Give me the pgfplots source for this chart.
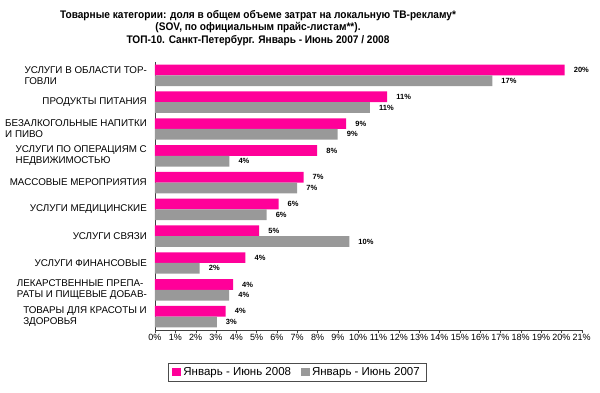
\documentclass[border=0pt]{standalone}
\usepackage{pgfplots}
\pgfplotsset{compat=1.18}
\usepackage{pgfplotstable}
\usepackage{fontspec}
\setmainfont{Liberation Sans}
\newfontfamily\titlefont[FakeStretch=0.92]{Liberation Sans}
\definecolor{pinkbar}{RGB}{255,0,153}
\definecolor{graybar}{RGB}{153,153,153}

\pgfplotstableread{
y x lab
0 20.16 20
1 11.43 11
2 9.41 9
3 7.98 8
4 7.31 7
5 6.08 6
6 5.13 5
7 4.45 4
8 3.84 4
9 3.48 4
}\pinkdata

\pgfplotstableread{
y x lab
0 16.60 17
1 10.58 11
2 8.99 9
3 3.66 4
4 7.00 7
5 5.49 6
6 9.56 10
7 2.20 2
8 3.65 4
9 3.04 3
}\graydata

\begin{document}
\begin{tikzpicture}
\useasboundingbox (0pt,0pt) rectangle (600pt,393pt);
\node[align=center, inner sep=0pt, font=\titlefont\bfseries\fontsize{11}{12.8}\selectfont] at (258pt,365pt)
{Товарные категории: доля в общем объеме затрат на локальную ТВ-рекламу*\\(SOV, по официальным прайс-листам**).\\ТОП-10. Санкт-Петербург. Январь - Июнь 2007 / 2008};
\begin{axis}[
  at={(155pt,63pt)}, anchor=south west,
  scale only axis, width=426.7pt, height=268pt,
  xmin=0, xmax=21, ymin=-0.5, ymax=9.5,
  y dir=reverse,
  xbar, bar width=0.4,
  axis x line*=bottom, axis y line*=left,
  axis line style={black!75, -},
  tick align=outside,
  xtick={0,...,21},
  xticklabels={0\%,1\%,2\%,3\%,4\%,5\%,6\%,7\%,8\%,9\%,10\%,11\%,12\%,13\%,14\%,15\%,16\%,17\%,18\%,19\%,20\%,21\%},
  xticklabel style={font=\fontsize{9}{10}\selectfont, inner sep=1pt},
  major tick length=3pt,
  tick style={black!75},
  ytick={0,...,9},
  yticklabels={{УСЛУГИ В ОБЛАСТИ ТОР-\\ГОВЛИ},{ПРОДУКТЫ ПИТАНИЯ},{БЕЗАЛКОГОЛЬНЫЕ НАПИТКИ\\И ПИВО},{УСЛУГИ ПО ОПЕРАЦИЯМ С\\НЕДВИЖИМОСТЬЮ},{МАССОВЫЕ МЕРОПРИЯТИЯ},{УСЛУГИ МЕДИЦИНСКИЕ},{УСЛУГИ СВЯЗИ},{УСЛУГИ ФИНАНСОВЫЕ},{ЛЕКАРСТВЕННЫЕ ПРЕПА-\\РАТЫ И ПИЩЕВЫЕ ДОБАВ-},{ТОВАРЫ ДЛЯ КРАСОТЫ И\\ЗДОРОВЬЯ}},
  yticklabel style={align=left, anchor=east, font=\fontsize{9.8}{11}\selectfont, inner sep=1pt, xshift=-4pt},
  ytick style={draw=none},
  minor ytick={-0.5,0.5,...,9.5},
  minor tick length=3pt,
  minor y tick style={black!75},
  point meta=explicit symbolic,
  nodes near coords={\pgfplotspointmeta\%},
  every node near coord/.append style={anchor=west, xshift=8pt, inner sep=1pt, font=\bfseries\fontsize{7.5}{8}\selectfont},
  legend style={at={(0.333,-0.157)}, anchor=center, legend columns=2, draw=black!70, font=\fontsize{11.5}{13}\selectfont, inner xsep=4pt, inner ysep=2pt, /tikz/every even column/.append style={column sep=8pt}},
  legend image code/.code={\fill[#1] (0pt,-4pt) rectangle (9pt,4pt);},
]
\addplot[fill=pinkbar, draw=none, bar shift=-0.2] table[x=x, y=y, meta=lab] {\pinkdata};
\addlegendentry{Январь - Июнь 2008}
\addplot[fill=graybar, draw=none, bar shift=0.2] table[x=x, y=y, meta=lab] {\graydata};
\addlegendentry{Январь - Июнь 2007}
\end{axis}
\end{tikzpicture}
\end{document}
